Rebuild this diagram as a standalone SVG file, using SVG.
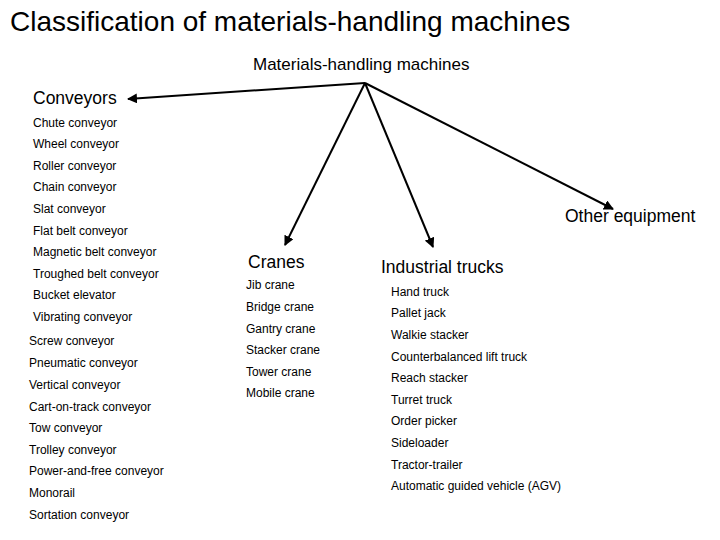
<svg xmlns="http://www.w3.org/2000/svg" width="720" height="540" viewBox="0 0 720 540">
<style>
text{font-family:"Liberation Sans",Arial,sans-serif;fill:#000}
.s{font-size:12px}
.h{font-size:17.5px}
.c line{stroke:#000;stroke-width:2;marker-end:url(#a)}
</style>
<defs><marker id="a" viewBox="0 0 10 10" refX="9" refY="5" markerWidth="5" markerHeight="5" orient="auto"><path d="M0,0L10,5L0,10z" fill="#000"/></marker></defs>
<rect width="720" height="540" fill="#fff"/>
<text x="10" y="31" font-size="28">Classification of materials-handling machines</text>
<g id="root"><text x="253" y="70" font-size="17">Materials-handling machines</text></g>
<g class="c" id="connectors">
<line x1="365" y1="83" x2="128" y2="99"/>
<line x1="365" y1="83" x2="285" y2="245"/>
<line x1="365" y1="83" x2="433" y2="247"/>
<line x1="365" y1="83" x2="613" y2="209"/>
</g>
<g id="conveyors">
<text class="h" x="33" y="104">Conveyors</text>
<text class="s" x="33" y="127">Chute conveyor</text>
<text class="s" x="33" y="148">Wheel conveyor</text>
<text class="s" x="33" y="170">Roller conveyor</text>
<text class="s" x="33" y="191">Chain conveyor</text>
<text class="s" x="33" y="213">Slat conveyor</text>
<text class="s" x="33" y="235">Flat belt conveyor</text>
<text class="s" x="33" y="256">Magnetic belt conveyor</text>
<text class="s" x="33" y="278">Troughed belt conveyor</text>
<text class="s" x="33" y="299">Bucket elevator</text>
<text class="s" x="33" y="321">Vibrating conveyor</text>
<text class="s" x="29" y="345">Screw conveyor</text>
<text class="s" x="29" y="367">Pneumatic conveyor</text>
<text class="s" x="29" y="389">Vertical conveyor</text>
<text class="s" x="29" y="411">Cart-on-track conveyor</text>
<text class="s" x="29" y="432">Tow conveyor</text>
<text class="s" x="29" y="454">Trolley conveyor</text>
<text class="s" x="29" y="475">Power-and-free conveyor</text>
<text class="s" x="29" y="497">Monorail</text>
<text class="s" x="29" y="519">Sortation conveyor</text>
</g>
<g id="cranes">
<text class="h" x="248" y="268">Cranes</text>
<text class="s" x="246" y="289">Jib crane</text>
<text class="s" x="246" y="311">Bridge crane</text>
<text class="s" x="246" y="333">Gantry crane</text>
<text class="s" x="246" y="354">Stacker crane</text>
<text class="s" x="246" y="376">Tower crane</text>
<text class="s" x="246" y="397">Mobile crane</text>
</g>
<g id="trucks">
<text class="h" x="381" y="273">Industrial trucks</text>
<text class="s" x="391" y="296">Hand truck</text>
<text class="s" x="391" y="317">Pallet jack</text>
<text class="s" x="391" y="339">Walkie stacker</text>
<text class="s" x="391" y="361">Counterbalanced lift truck</text>
<text class="s" x="391" y="382">Reach stacker</text>
<text class="s" x="391" y="404">Turret truck</text>
<text class="s" x="391" y="425">Order picker</text>
<text class="s" x="391" y="447">Sideloader</text>
<text class="s" x="391" y="469">Tractor-trailer</text>
<text class="s" x="391" y="490">Automatic guided vehicle (AGV)</text>
</g>
<g id="other"><text class="h" x="565" y="222">Other equipment</text></g>
</svg>
